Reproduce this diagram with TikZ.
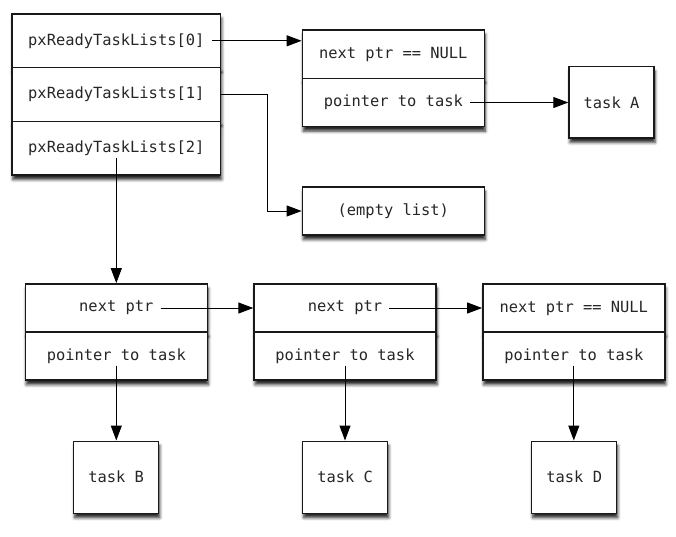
\documentclass[tikz,border=0pt]{standalone}
\usepackage{fontspec}
\setmonofont{DejaVu Sans Mono}
\usetikzlibrary{arrows.meta,shadows.blur}

\begin{document}
\begin{tikzpicture}[x=1pt,y=-1pt,
  font=\fontsize{15.4}{18}\selectfont\ttfamily,
  box/.style={draw=black!90, line width=1.4pt, fill=white, inner sep=0pt,
    text=black!85,
    blur shadow={shadow xshift=1pt, shadow yshift=-4.5pt,
      shadow blur radius=3pt, shadow opacity=85}},
  arrcell/.style={box, minimum width=208.7pt, minimum height=53.7pt},
  lstcell/.style={box, minimum width=182pt, minimum height=48.3pt},
  taskbox/.style={box, minimum width=85pt, minimum height=72pt},
  txt/.style={inner xsep=7pt, inner ysep=2pt, text=black!85},
  link/.style={line width=1pt, -{Triangle[length=15pt,width=11pt]}}]

  \useasboundingbox (0,0) rectangle (676,536);

  % ready lists
  \node[arrcell] (RL0) at (116.3,40.8) {};
  \node[arrcell] (RL1) at (116.3,94.5) {};
  \node[arrcell] (RL2) at (116.3,148.2) {};
  \node[txt] (RL0T) at (RL0) {pxReadyTaskLists[0]};
  \node[txt] (RL1T) at (RL1) {pxReadyTaskLists[1]};
  \node[txt] (RL2T) at (RL2) {pxReadyTaskLists[2]};

  % list of priority 0
  \node[lstcell] (LA1) at (393.3,54.2) {};
  \node[lstcell] (LA2) at (393.3,102.5) {};
  \node[txt] (LA1T) at (LA1) {next ptr == NULL};
  \node[txt] (LA2T) at (LA2) {pointer to task};
  \node[taskbox, minimum height=71.3pt] (TA) at (611.5,102.3) {task A};

  % list of priority 1
  \node[lstcell, minimum height=48pt] (EMPTY) at (393.3,211) {(empty list)};

  % list of priority 2
  \node[lstcell] (B1N) at (116.3,308) {};
  \node[lstcell] (B1P) at (116.3,356) {};
  \node[txt] (B1NT) at (B1N) {next ptr};
  \node[txt] (B1PT) at (B1P) {pointer to task};

  \node[lstcell] (B2N) at (345,308) {};
  \node[lstcell] (B2P) at (345,356) {};
  \node[txt] (B2NT) at (B2N) {next ptr};
  \node[txt] (B2PT) at (B2P) {pointer to task};

  \node[lstcell] (B3N) at (573.8,308) {};
  \node[lstcell] (B3P) at (573.8,356) {};
  \node[txt] (B3NT) at (B3N) {next ptr == NULL};
  \node[txt] (B3PT) at (B3P) {pointer to task};

  \node[taskbox] (TB) at (116.2,477.2) {task B};
  \node[taskbox] (TC) at (345.2,477.2) {task C};
  \node[taskbox] (TD) at (574.2,477.2) {task D};

  % pointers
  \draw[link] (RL0T.east) -- (RL0T.east -| LA1.west);
  \draw[link] (LA2T.east) -- (LA2T.east -| TA.west);
  \draw[link] (RL1.east) -- ++(46,0) |- (EMPTY.west);
  \draw[link] (RL2T.south) -- (RL2T.south |- B1N.north);

  \draw[link] (B1NT.east) -- (B1NT.east -| B2N.west);
  \draw[link] (B2NT.east) -- (B2NT.east -| B3N.west);

  \draw[link] (B1PT.south) -- (B1PT.south |- TB.north);
  \draw[link] (B2PT.south) -- (B2PT.south |- TC.north);
  \draw[link] (B3PT.south) -- (B3PT.south |- TD.north);

\end{tikzpicture}
\end{document}
